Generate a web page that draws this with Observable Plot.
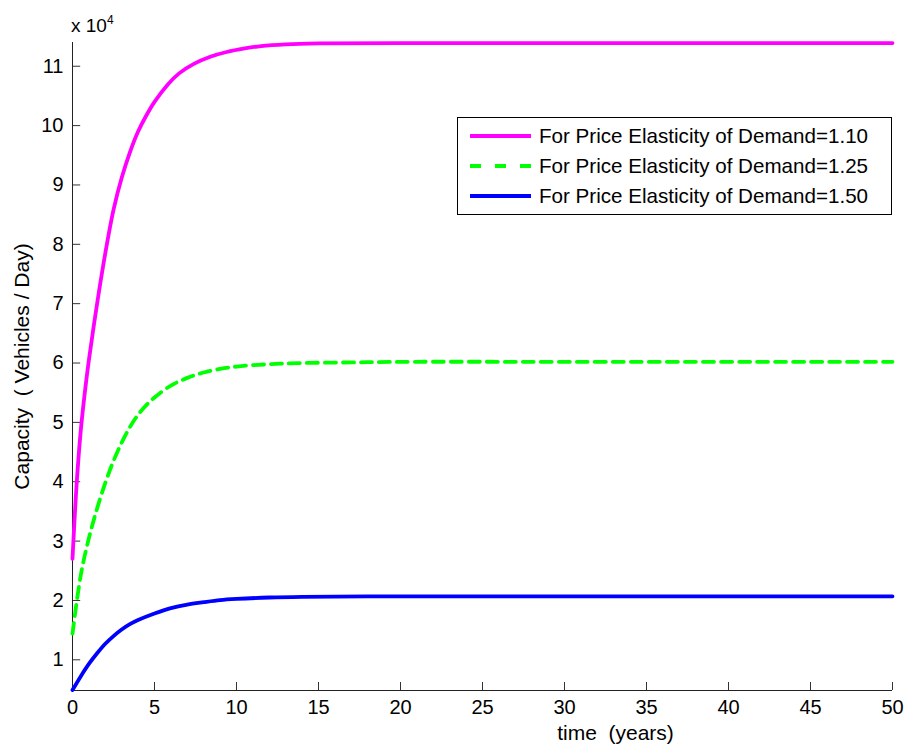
<!DOCTYPE html>
<html>
<head>
<meta charset="utf-8">
<script src="https://cdn.jsdelivr.net/npm/d3@7"></script>
<script src="https://cdn.jsdelivr.net/npm/@observablehq/plot@0.6"></script>
<style>
  html, body { margin: 0; padding: 0; background: white; }
  #wrap { position: relative; width: 907px; height: 746px; font-family: "Liberation Sans", Arial, sans-serif; }
  #wrap svg text { white-space: pre; }
  #chart text { font-size: 20px !important; fill: #000; }
  #chart .axis-title text, #chart text.axis-title { font-size: 21px !important; }
  #expo { position: absolute; left: 71px; top: 15px; font-size: 19px; color: #000; line-height: 1; }
  #expo sup { font-size: 12px; position: relative; top: -1px; }
</style>
</head>
<body>
<div id="wrap"></div>
<script>
// Series: time (years) and capacity (x 10^4 vehicles/day)
const magentaT = [0, 0.25, 0.5, 0.75, 1, 1.5, 2, 2.5, 3, 3.5, 4, 4.5, 5, 5.8, 6.5, 7.4, 8.4, 9.4, 10.5, 11.5, 13, 15, 20, 30, 50];
const magentaV = [2.70, 3.95, 4.85, 5.50, 6.05, 7.00, 7.85, 8.58, 9.12, 9.55, 9.90, 10.17, 10.40, 10.69, 10.88, 11.04, 11.16, 11.24, 11.30, 11.34, 11.37, 11.385, 11.39, 11.39, 11.39];

const greenT = [0, 0.5, 1, 1.5, 2, 2.5, 3, 3.5, 4, 4.5, 5, 6, 7, 8, 9, 10, 12, 14, 17, 20, 30, 50];
const greenV = [1.44, 2.42, 3.05, 3.55, 3.98, 4.35, 4.66, 4.92, 5.13, 5.29, 5.42, 5.62, 5.75, 5.84, 5.90, 5.94, 5.98, 6.00, 6.01, 6.02, 6.02, 6.02];

const blueT = [0, 0.5, 1, 1.5, 2, 2.5, 3, 3.5, 4, 5, 6, 7, 8, 9, 10, 12, 14, 18, 30, 50];
const blueV = [0.49, 0.72, 0.93, 1.11, 1.27, 1.40, 1.51, 1.60, 1.67, 1.78, 1.87, 1.93, 1.97, 2.005, 2.025, 2.05, 2.062, 2.07, 2.07, 2.07];

const seriesNames = ["For Price Elasticity of Demand=1.10", "For Price Elasticity of Demand=1.25", "For Price Elasticity of Demand=1.50"];
const seriesColors = ["#ff00ff", "#00ff00", "#0000ff"];

const xTicks = [0, 5, 10, 15, 20, 25, 30, 35, 40, 45, 50];
const yTicks = [1, 2, 3, 4, 5, 6, 7, 8, 9, 10, 11];
const yDomain = [0.483, 11.40];
const xDomain = [0, 50];
const xLabel = "time  (years)";
const yLabel = "Capacity  ( Vehicles / Day)";

const toRows = (T, V) => T.map((t, i) => ({t, v: V[i]}));
const magenta = toRows(magentaT, magentaV);
const green = toRows(greenT, greenV);
const blue = toRows(blueT, blueV);

const yMin = yDomain[0];

const chart = Plot.plot({
  width: 907,
  height: 746,
  marginLeft: 72,
  marginRight: 15,
  marginTop: 42,
  marginBottom: 56,
  style: {fontFamily: "'Liberation Sans', Arial, sans-serif", fontSize: "20px", background: "white", color: "#000", overflow: "visible"},
  x: {domain: xDomain, label: null},
  y: {domain: yDomain, label: null},
  marks: [
    Plot.axisX(xTicks, {tickSize: 0, tickPadding: 9, tickFormat: d => String(d), label: null}),
    Plot.axisY(yTicks, {tickSize: 0, tickPadding: 9, tickFormat: d => String(d), label: null}),
    Plot.text([xLabel], {text: d => d, frameAnchor: "bottom", dx: 133, dy: 43, lineAnchor: "middle", textAnchor: "middle", className: "axis-title"}),
    Plot.text([yLabel], {text: d => d, frameAnchor: "left", dx: -50, rotate: -90, lineAnchor: "middle", textAnchor: "middle", className: "axis-title"}),
    Plot.ruleX(xTicks, {y1: yMin, y2: yMin + 0.135, stroke: "#333", strokeWidth: 1}),
    Plot.ruleY(yTicks, {x1: 0, x2: 0.5, stroke: "#333", strokeWidth: 1}),
    Plot.ruleX([0], {stroke: "#222", strokeWidth: 1}),
    Plot.ruleY([yMin], {stroke: "#222", strokeWidth: 1}),
    Plot.line(blue, {x: "t", y: "v", stroke: seriesColors[2], strokeWidth: 3.8, curve: "catmull-rom"}),
    Plot.line(green, {x: "t", y: "v", stroke: seriesColors[1], strokeWidth: 3.8, strokeDasharray: "11,7", curve: "catmull-rom"}),
    Plot.line(magenta, {x: "t", y: "v", stroke: seriesColors[0], strokeWidth: 3.8, curve: "catmull-rom"})
  ]
});
chart.id = "chart";

const wrap = document.getElementById("wrap");
wrap.appendChild(chart);

const expo = document.createElement("div");
expo.id = "expo";
expo.innerHTML = "x 10<sup>4</sup>";
wrap.appendChild(expo);

// Legend
const lw = 435, lh = 98;
const legend = d3.create("svg").attr("width", lw).attr("height", lh)
  .style("position", "absolute").style("left", "457px").style("top", "117px");
legend.append("rect").attr("x", 0.5).attr("y", 0.5).attr("width", lw - 1).attr("height", lh - 1)
  .attr("fill", "white").attr("stroke", "#000").attr("stroke-width", 1);
const rowY = [19, 49, 79];
seriesNames.forEach((name, i) => {
  legend.append("line").attr("x1", 13).attr("x2", 74).attr("y1", rowY[i]).attr("y2", rowY[i])
    .attr("stroke", seriesColors[i]).attr("stroke-width", 3.8)
    .attr("stroke-dasharray", i === 1 ? "11,14" : null);
  legend.append("text").attr("x", 82).attr("y", rowY[i]).attr("dy", "0.36em")
    .attr("font-family", "'Liberation Sans', Arial, sans-serif").attr("font-size", 20.6)
    .attr("fill", "#000").text(name);
});
wrap.appendChild(legend.node());
</script>
</body>
</html>
